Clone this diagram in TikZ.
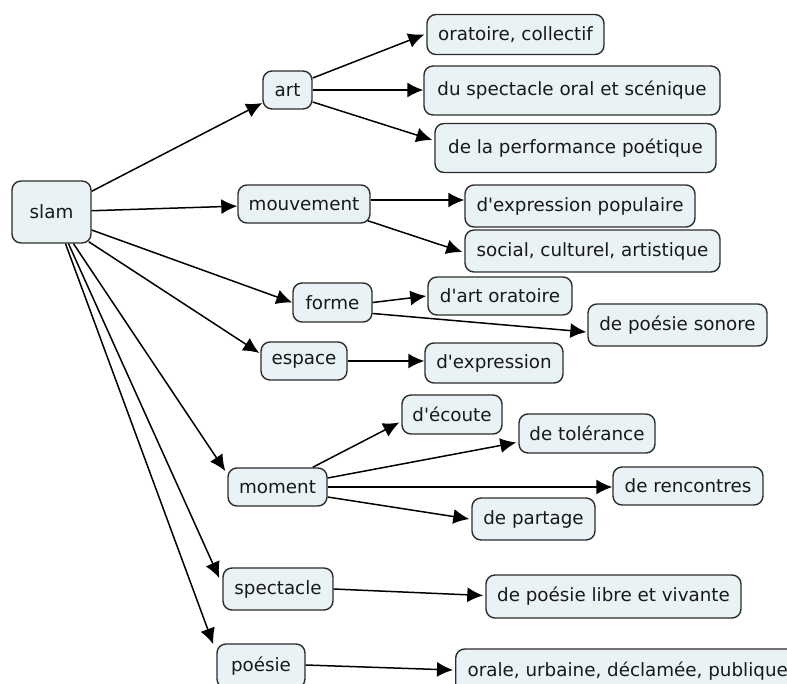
\documentclass[tikz,border=0pt]{standalone}
\usepackage{fontspec}
\setmainfont{DejaVu Sans}
\usetikzlibrary{arrows.meta,calc}
\definecolor{boxfill}{RGB}{233,242,244}
\definecolor{boxline}{RGB}{45,45,45}
\definecolor{txt}{RGB}{25,25,25}
\newcommand{\apos}{\textquotesingle}
\begin{document}
\begin{tikzpicture}[x=1pt,y=-1pt,
  concept/.style={draw=boxline, fill=boxfill, line width=1.4pt, rounded corners=9pt,
    inner sep=0pt, align=center, font=\fontsize{18.3}{22}\selectfont, text=txt},
  link/.style={line width=1.5pt, -{Latex[length=16pt,width=15pt]}}]
\useasboundingbox (0,0) rectangle (787,683);
% nodes
\node[concept, minimum width=79pt, minimum height=62pt] (slam) at (51.5,212) {slam};
\node[concept, minimum width=49pt, minimum height=38pt] (art) at (287.5,90) {art};
\node[concept, minimum width=177pt, minimum height=40pt] (orat) at (515.5,34.5) {oratoire, collectif};
\node[concept, minimum width=296pt, minimum height=49pt] (dusp) at (572,90.5) {du spectacle oral et scénique};
\node[concept, minimum width=281pt, minimum height=49pt] (perf) at (575.5,148) {de la performance poétique};
\node[concept, minimum width=132pt, minimum height=38pt] (mouv) at (304,204) {mouvement};
\node[concept, minimum width=230pt, minimum height=42pt] (exprpop) at (580,206) {d\apos expression populaire};
\node[concept, minimum width=255pt, minimum height=42pt] (social) at (592.5,251) {social, culturel, artistique};
\node[concept, minimum width=79pt, minimum height=39pt] (forme) at (332.5,302.5) {forme};
\node[concept, minimum width=144pt, minimum height=38pt] (artor) at (500,296) {d\apos art oratoire};
\node[concept, minimum width=179pt, minimum height=42pt] (sonore) at (677.5,325) {de poésie sonore};
\node[concept, minimum width=86pt, minimum height=38pt] (espace) at (304,361) {espace};
\node[concept, minimum width=138pt, minimum height=40pt] (dexpr) at (494,363) {d\apos expression};
\node[concept, minimum width=100pt, minimum height=39pt] (ecoute) at (452,414.5) {d\apos écoute};
\node[concept, minimum width=136pt, minimum height=39pt] (tol) at (587,433.5) {de tolérance};
\node[concept, minimum width=99pt, minimum height=38pt] (moment) at (277.5,487) {moment};
\node[concept, minimum width=150pt, minimum height=38pt] (renc) at (688,486) {de rencontres};
\node[concept, minimum width=123pt, minimum height=42pt] (partage) at (533.5,519) {de partage};
\node[concept, minimum width=110pt, minimum height=42pt] (spect) at (278,589) {spectacle};
\node[concept, minimum width=255pt, minimum height=43pt] (libre) at (613.5,596.5) {de poésie libre et vivante};
\node[concept, minimum width=88pt, minimum height=44pt] (poesie) at (261,666) {poésie};
\node[concept, inner xsep=12pt, minimum height=44pt, anchor=west] (orale) at (455,671) {orale, urbaine, déclamée, publique};
% helper coordinates
\coordinate (mv1) at ($(mouv.east)+(0,-4)$);
% connectors from slam
\draw[link] (slam) -- (art);
\draw[link] (slam) -- (mouv);
\draw[link] ($(slam.east)+(0,18)$) -- (forme.west);
\draw[link] ($(slam.south east)+(-3,-2)$) -- ($(espace.west)+(-1,-8)$);
\draw[link] ($(slam.south)+(22,0)$) -- ($(moment.west)+(-2,-16)$);
\draw[link] ($(slam.south)+(17,0)$) -- ($(spect.west)+(-3,-11)$);
\draw[link] ($(slam.south)+(14,0)$) -- ($(poesie.north west)+(-3,1)$);
% art
\draw[link] ($(art.east)+(0,-12)$) -- ($(orat.west)+(-2,0)$);
\draw[link] (art.east) -- (art.east -| dusp.west);
\draw[link] ($(art.east)+(0,12)$) -- ($(perf.west)+(-2,-8)$);
% mouvement
\draw[link] (mv1) -- (mv1 -| exprpop.west);
\draw[link] ($(mouv.south east)+(-3,-3)$) -- ($(social.west)+(-2,1)$);
% forme
\draw[link] (forme.east) -- ($(artor.west)+(-1,0)$);
\draw[link] ($(forme.east)+(0,11)$) -- ($(sonore.west)+(-1,7)$);
% espace
\draw[link] (espace.east) -- (espace.east -| dexpr.west);
% moment
\draw[link] ($(moment.north east)+(-15,0)$) -- ($(ecoute.west)+(-2,8)$);
\draw[link] ($(moment.east)+(0,-9)$) -- ($(tol.west)+(-2,9)$);
\draw[link] (moment.east) -- (moment.east -| renc.west);
\draw[link] ($(moment.east)+(0,10)$) -- ($(partage.west)+(-2,0)$);
% spectacle, poesie
\draw[link] (spect.east) -- ($(libre.west)+(-2,-1)$);
\draw[link] ($(poesie.east)+(0,-1)$) -- ($(orale.west)+(-2,-1)$);
\end{tikzpicture}
\end{document}
